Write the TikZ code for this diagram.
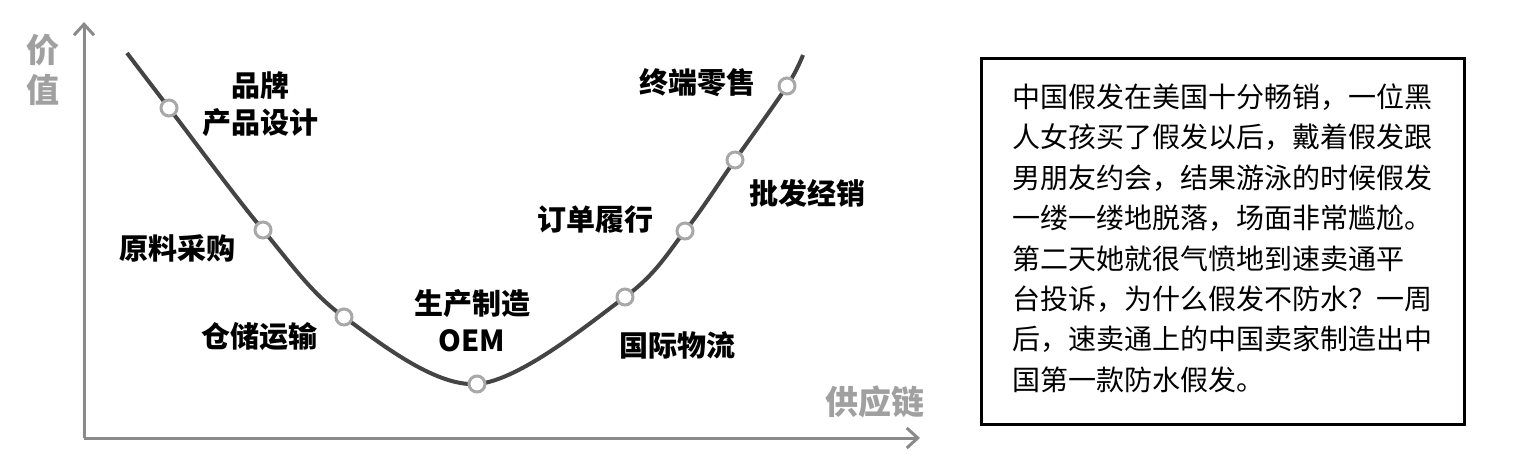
\documentclass[tikz,border=0pt]{standalone}
\usepackage{fontspec}
\newfontfamily\cjk{Noto Sans CJK SC}
\usetikzlibrary{arrows.meta}
\definecolor{axisgray}{HTML}{8A8A8A}
\definecolor{curvegray}{HTML}{444444}
\definecolor{ringgray}{HTML}{A8A8A8}
\definecolor{titlegray}{HTML}{A0A0A0}
\tikzset{
  axisline/.style={draw=axisgray,line width=3pt,-{Straight Barb[length=11pt,width=20pt,line width=3pt]}},
  ring/.style={circle,draw=ringgray,fill=white,line width=3pt,minimum size=16pt,inner sep=0pt},
  stagelabel/.style={font=\cjk\bfseries\fontsize{29}{37}\selectfont,align=center,text=black,inner sep=0pt},
  axislabel/.style={font=\cjk\bfseries\fontsize{33}{33}\selectfont,text=titlegray,inner sep=0pt},
  storyline/.style={font=\cjk\fontsize{28}{28}\selectfont,anchor=west,inner sep=0pt},
}
\begin{document}
\begin{tikzpicture}[x=1pt,y=-1pt]
\useasboundingbox[fill=white] (0,0) rectangle (1522,458);
% axes
\coordinate (origin) at (84,438);
\coordinate (ytip) at (84,22);
\coordinate (xtip) at (920,438);
\draw[axisline] (origin) -- (ytip);
\draw[axisline] (origin) -- (xtip);
\node[axislabel] (yl1) at (43,50) {价};
\node[axislabel] (yl2) at (43,90) {值};
\node[axislabel] (xl) at (875,402) {供应链};
% curve points
\coordinate (c0) at (127,53);
\coordinate (c1) at (169,108);
\coordinate (c2) at (263,230);
\coordinate (c3) at (344,317);
\coordinate (c4) at (477,384);
\coordinate (c5) at (625,297);
\coordinate (c6) at (685,231);
\coordinate (c7) at (735,160);
\coordinate (c8) at (787,86);
\coordinate (c9) at (803,55);
\draw[curvegray,line width=4pt] plot[smooth,tension=0.55] coordinates {(c0) (c1) (c2) (c3) (c4) (c5) (c6) (c7) (c8) (c9)};
\foreach \i in {1,...,8} \node[ring] (r\i) at (c\i) {};
% labels
\node[stagelabel] (l1) at (260,104) {品牌\\产品设计};
\node[stagelabel] (l2) at (177,248) {原料采购};
\node[stagelabel] (l3) at (259,337) {仓储运输};
\node[stagelabel] (l4) at (472,321) {生产制造\\OEM};
\node[stagelabel] (l5) at (677,345) {国际物流};
\node[stagelabel] (l6) at (595,220) {订单履行};
\node[stagelabel] (l7) at (807,193) {批发经销};
\node[stagelabel] (l8) at (697,83) {终端零售};
% story box
\node[draw=black,line width=3pt,minimum width=483pt,minimum height=366pt,anchor=north west,inner sep=0pt] (box) at (980,57) {};
\node[storyline] (s1) at (1012,97) {中国假发在美国十分畅销，一位黑};
\node[storyline] (s2) at (1012,137.4) {人女孩买了假发以后，戴着假发跟};
\node[storyline] (s3) at (1012,177.9) {男朋友约会，结果游泳的时候假发};
\node[storyline] (s4) at (1012,218.3) {一缕一缕地脱落，场面非常尴尬。};
\node[storyline] (s5) at (1012,258.7) {第二天她就很气愤地到速卖通平};
\node[storyline] (s6) at (1012,299.1) {台投诉，为什么假发不防水？一周};
\node[storyline] (s7) at (1012,339.6) {后，速卖通上的中国卖家制造出中};
\node[storyline] (s8) at (1012,380) {国第一款防水假发。};
\end{tikzpicture}
\end{document}
